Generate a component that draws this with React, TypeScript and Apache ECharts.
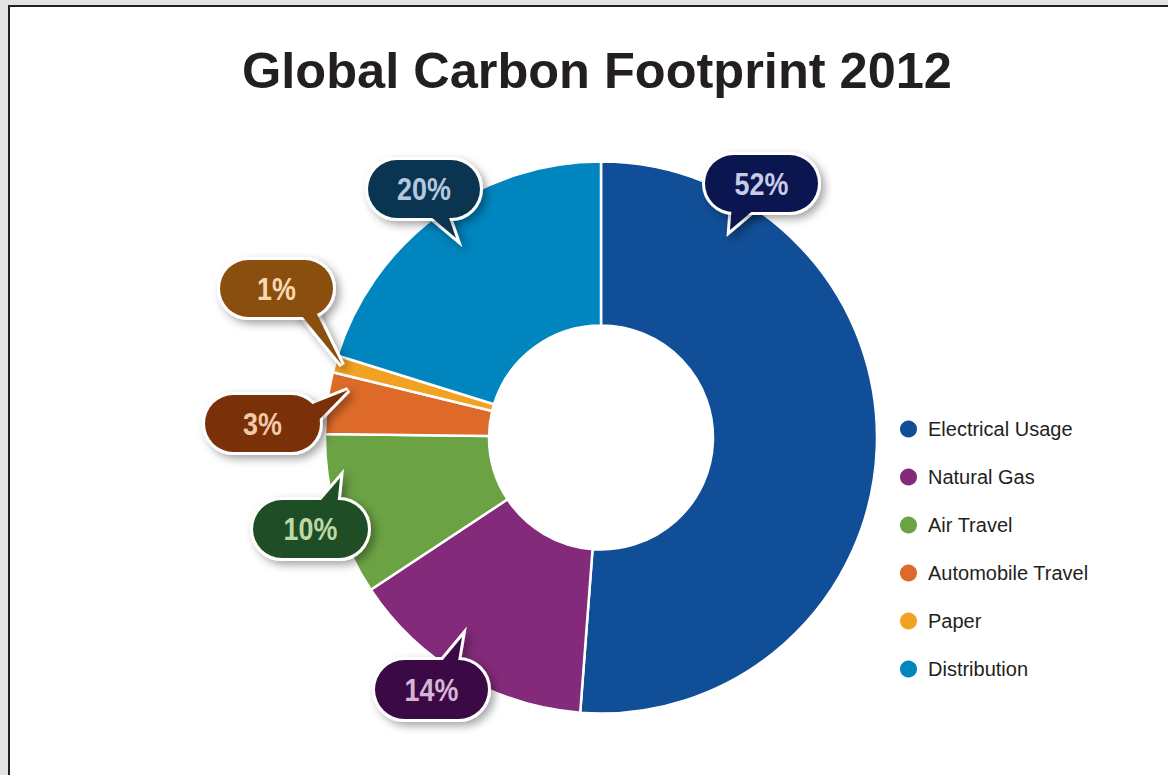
import React, { useEffect, useRef } from "react";
import * as echarts from "echarts";

const categories = ["Electrical Usage", "Natural Gas", "Air Travel", "Automobile Travel", "Paper", "Distribution"];
const values = [51.2, 14.5, 9.5, 3.6, 1.0, 20.2];
// percentages printed in the callouts
const calloutLabels = ["52%", "14%", "10%", "3%", "1%", "20%"];
const sliceColors = ["#104e97", "#832a7a", "#6ba244", "#dd6a29", "#f1a221", "#0085bf"];
const bubbleFill = ["#0b1550", "#3b0a44", "#1f4e26", "#7a3008", "#8a4f0e", "#0b3450"];
const bubbleTextColor = ["#c8cae6", "#d6b4d6", "#bcd8a4", "#f2c9a8", "#f8d8b0", "#b4c9e0"];
const chartTitle = "Global Carbon Footprint 2012";

// callout layout (chart px): rectX, rectY, w, h, base1X, base1Y, base2X, base2Y, tipX, tipY
const bubbleLayout = [
  [695, 148, 113, 57, 722, 196, 752, 196, 720, 223],
  [365, 653, 113, 59, 427, 660, 447, 660, 452, 630],
  [243, 493, 115, 58, 305, 500, 327, 500, 330, 471],
  [195, 388, 115, 57, 290, 402, 302, 420, 338, 383],
  [210, 253, 113, 57, 287, 303, 305, 303, 332, 358],
  [358, 153, 112, 58, 415, 205, 437, 205, 446, 231],
];

export default function App() {
  const ref = useRef<HTMLDivElement>(null);

  useEffect(() => {
    if (!ref.current) return;
    const chart = echarts.init(ref.current, null, { renderer: "svg" });

    const shadow = {
      shadowBlur: 8,
      shadowOffsetX: 4,
      shadowOffsetY: 4,
      shadowColor: "rgba(0,0,0,0.35)",
    };
    const graphics: any[] = [];
    bubbleLayout.forEach((b, i) => {
      const [x, y, w, h, b1x, b1y, b2x, b2y, tx, ty] = b;
      const tail = [
        [b1x, b1y],
        [tx, ty],
        [b2x, b2y],
      ];
      graphics.push({
        type: "polygon",
        shape: { points: tail },
        style: { fill: "#fff", stroke: "#fff", lineWidth: 6, ...shadow },
        z: 10,
      });
      graphics.push({
        type: "rect",
        shape: { x, y, width: w, height: h, r: h / 2 },
        style: { fill: "#fff", stroke: "#fff", lineWidth: 6, ...shadow },
        z: 10,
      });
      graphics.push({
        type: "polygon",
        shape: { points: tail },
        style: { fill: bubbleFill[i] },
        z: 11,
      });
      graphics.push({
        type: "rect",
        shape: { x, y, width: w, height: h, r: h / 2 },
        style: { fill: bubbleFill[i] },
        z: 11,
      });
      graphics.push({
        type: "text",
        x: x + w / 2,
        y: y + h / 2,
        scaleX: 0.84,
        style: {
          text: calloutLabels[i],
          fill: bubbleTextColor[i],
          fontFamily: '"Liberation Sans", Arial, sans-serif',
          fontWeight: "bold",
          fontSize: 32,
          textAlign: "center",
          textVerticalAlign: "middle",
          verticalAlign: "middle",
        },
        z: 12,
      });
    });

    chart.setOption({
      animation: false,
      color: sliceColors,
      title: {
        text: chartTitle,
        left: "center",
        top: 33,
        textStyle: {
          fontFamily: '"Liberation Sans", Arial, sans-serif',
          fontWeight: "bold",
          fontSize: 50.5,
          color: "#231f20",
        },
      },
      legend: {
        orient: "vertical",
        left: 883,
        top: 406,
        icon: "circle",
        itemWidth: 19,
        itemHeight: 19,
        itemGap: 26,
        selectedMode: false,
        data: categories,
        textStyle: {
          fontFamily: '"Liberation Sans", Arial, sans-serif',
          fontSize: 20,
          lineHeight: 22,
          color: "#231f20",
          padding: [0, 0, 0, 5],
        },
      },
      series: [
        {
          type: "pie",
          center: [591, 430.5],
          radius: [112, 276],
          startAngle: 90,
          clockwise: true,
          label: { show: false },
          labelLine: { show: false },
          emphasis: { disabled: true },
          itemStyle: { borderColor: "#ffffff", borderWidth: 2.5 },
          data: categories.map((name, i) => ({ name, value: values[i] })),
        },
      ],
      graphic: graphics,
    });

    return () => chart.dispose();
  }, []);

  return (
    <div style={{ position: "fixed", left: 0, top: 0, right: 0, bottom: 0, background: "#e3e3e3", overflow: "hidden" }}>
      <div
        style={{
          position: "absolute",
          left: 8,
          top: 5,
          width: 1300,
          height: 900,
          border: "2px solid #231f20",
          background: "#ffffff",
        }}
      >
        <div ref={ref} style={{ width: 1174, height: 770 }} />
      </div>
    </div>
  );
}
